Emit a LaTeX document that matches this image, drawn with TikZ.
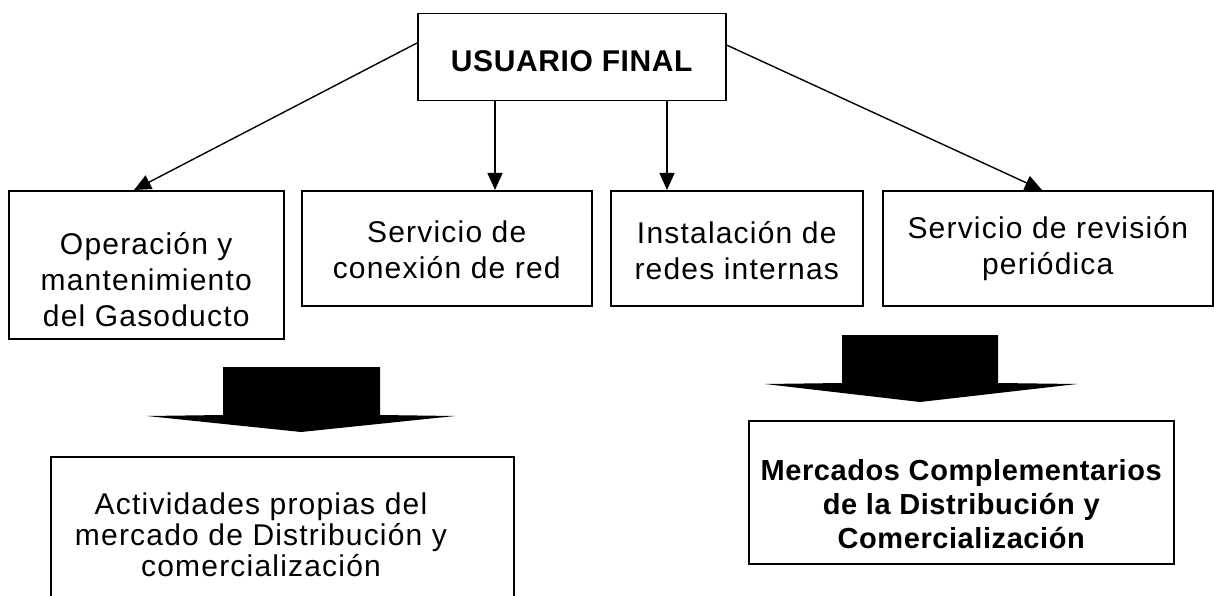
\documentclass[tikz,border=0pt]{standalone}
\usepackage{fontspec}
\setmainfont{Liberation Sans}
\usetikzlibrary{arrows.meta}
\begin{document}
\begin{tikzpicture}[x=1pt,y=-1pt,
  box/.style={draw, line width=1.5pt, inner sep=0pt, anchor=north west},
  txt/.style={align=center, font=\fontsize{30}{36}\selectfont\addfontfeature{LetterSpace=4}},
  txtb/.style={align=center, font=\fontsize{29}{34}\selectfont\bfseries\addfontfeature{LetterSpace=2}},
  arr/.style={line width=1.4pt, -{Triangle[length=17pt,width=15pt]}},
  blockarrow/.style={fill=black}
]
\useasboundingbox (0,0) rectangle (1214,596);
% top box
\node[box, minimum width=308pt, minimum height=87pt] (top) at (417,13) {};
\node[align=center, font=\fontsize{30}{34}\selectfont\bfseries\addfontfeature{LetterSpace=2}] (toptxt) at ([yshift=-4pt]top.center) {USUARIO FINAL};
% row boxes
\node[box, minimum width=275pt, minimum height=148pt] (b1) at (8,190) {};
\node[txt] (b1t) at ([yshift=-15pt]b1.center) {Operación y\\mantenimiento\\del Gasoducto};
\node[box, minimum width=290pt, minimum height=115pt] (b2) at (301,190) {};
\node[txt] (b2t) at ([yshift=-2pt]b2.center) {Servicio de\\conexión de red};
\node[box, minimum width=252pt, minimum height=115pt] (b3) at (610,190) {};
\node[txt] (b3t) at ([yshift=-2pt]b3.center) {Instalación de\\redes internas};
\node[box, minimum width=330pt, minimum height=115pt] (b4) at (882,190) {};
\node[txt] (b4t) at (b4.center) {Servicio de revisión\\periódica};
% bottom boxes
\node[box, minimum width=463pt, minimum height=160pt] (bl) at (50,456) {};
\node[txt, font=\fontsize{30}{31}\selectfont\addfontfeature{LetterSpace=4}] (blt) at (261,535) {Actividades propias del\\mercado de Distribución y\\comercialización};
\node[box, minimum width=425pt, minimum height=143pt] (br) at (748,420) {};
\node[txtb] (brt) at ([yshift=-12pt]br.center) {Mercados Complementarios\\de la Distribución y\\Comercialización};
% connectors
\draw[arr] ([yshift=-30pt]top.north west) -- ([xshift=126pt]b1.north west);
\draw[arr] ([xshift=78pt]top.south west) -- ([xshift=78pt]top.south west |- b2.north);
\draw[arr] ([xshift=250pt]top.south west) -- ([xshift=250pt]top.south west |- b3.north);
\draw[arr] ([yshift=-32pt]top.north east) -- ([xshift=160pt]b4.north west);
% block arrows
\fill[blockarrow] (223,367) -- (380,367) -- (380,415) -- (455,416) -- (301,432) -- (147,416) -- (223,415) -- cycle;
\fill[blockarrow] (842,335) -- (998,335) -- (998,383) -- (1077,384) -- (920,402) -- (765,384) -- (842,383) -- cycle;
\end{tikzpicture}
\end{document}
